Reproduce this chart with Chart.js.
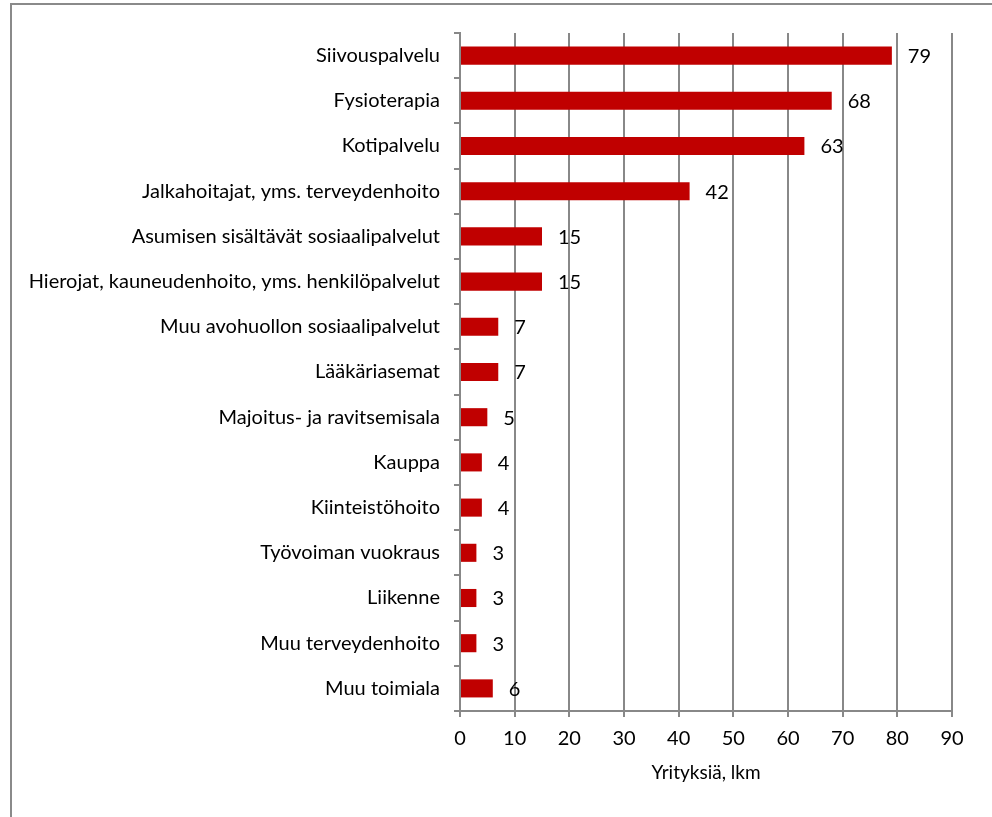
<!DOCTYPE html>
<html>
<head>
<meta charset="utf-8">
<script src="https://cdn.jsdelivr.net/npm/chart.js@4"></script>
<style>
  html, body { margin: 0; padding: 0; background: #fff; overflow: hidden; width: 992px; height: 817px; }
  #frame { position: absolute; left: 10px; top: 3px; width: 1000px; height: 900px; border: 2px solid #8a8a8a; box-sizing: border-box; }
  #wrap { position: absolute; left: 0; top: 0; width: 992px; height: 817px; }
</style>
</head>
<body>
<div id="frame"></div>
<div id="wrap"><canvas id="c" width="992" height="817"></canvas></div>
<script>
const categories = [
  "Siivouspalvelu",
  "Fysioterapia",
  "Kotipalvelu",
  "Jalkahoitajat, yms. terveydenhoito",
  "Asumisen sisältävät sosiaalipalvelut",
  "Hierojat, kauneudenhoito, yms. henkilöpalvelut",
  "Muu avohuollon sosiaalipalvelut",
  "Lääkäriasemat",
  "Majoitus- ja ravitsemisala",
  "Kauppa",
  "Kiinteistöhoito",
  "Työvoiman vuokraus",
  "Liikenne",
  "Muu terveydenhoito",
  "Muu toimiala"
];
const companies = [79, 68, 63, 42, 15, 15, 7, 7, 5, 4, 4, 3, 3, 3, 6];
const axisTitle = "Yrityksiä, lkm";
const xMin = 0, xMax = 90, xStep = 10;

const FONT = "Lato, 'Open Sans', sans-serif";
const FS = 20;
const GRID = "#888888";

const valueLabels = {
  id: 'valueLabels',
  afterDatasetsDraw(chart) {
    const ctx = chart.ctx;
    const meta = chart.getDatasetMeta(0);
    ctx.save();
    ctx.font = FS + "px " + FONT;
    ctx.fillStyle = "#000";
    ctx.textAlign = "left";
    ctx.textBaseline = "middle";
    meta.data.forEach((bar, i) => {
      ctx.fillText(String(companies[i]), bar.x + 16, bar.y + 1);
    });
    ctx.restore();
  }
};

new Chart(document.getElementById('c'), {
  type: 'bar',
  data: {
    labels: categories,
    datasets: [{
      data: companies,
      backgroundColor: '#C00000',
      borderWidth: 0,
      categoryPercentage: 1,
      barPercentage: 0.4
    }]
  },
  options: {
    indexAxis: 'y',
    responsive: false,
    animation: false,
    devicePixelRatio: 1,
    layout: { padding: { left: 0, top: 33, right: 40, bottom: 0 } },
    plugins: { legend: { display: false }, tooltip: { enabled: false } },
    scales: {
      y: {
        type: 'category',
        afterFit(scale) { scale.width = 460; },
        grid: { offset: true, drawOnChartArea: false, drawTicks: true, tickLength: 6, color: GRID, lineWidth: 2 },
        border: { display: true, color: GRID, width: 2 },
        ticks: { color: '#000', font: { family: FONT, size: FS }, padding: 14, autoSkip: false }
      },
      x: {
        min: xMin, max: xMax,
        afterFit(scale) { scale.height = 106; },
        grid: { color: GRID, lineWidth: 2, drawTicks: true, tickLength: 6 },
        border: { display: true, color: GRID, width: 2 },
        ticks: { stepSize: xStep, color: '#000', font: { family: FONT, size: FS }, padding: 10, maxRotation: 0 },
        title: { display: true, text: axisTitle, color: '#000', font: { family: FONT, size: FS - 1 }, padding: { top: 0, bottom: 33 } }
      }
    }
  },
  plugins: [valueLabels]
});
</script>
</body>
</html>
